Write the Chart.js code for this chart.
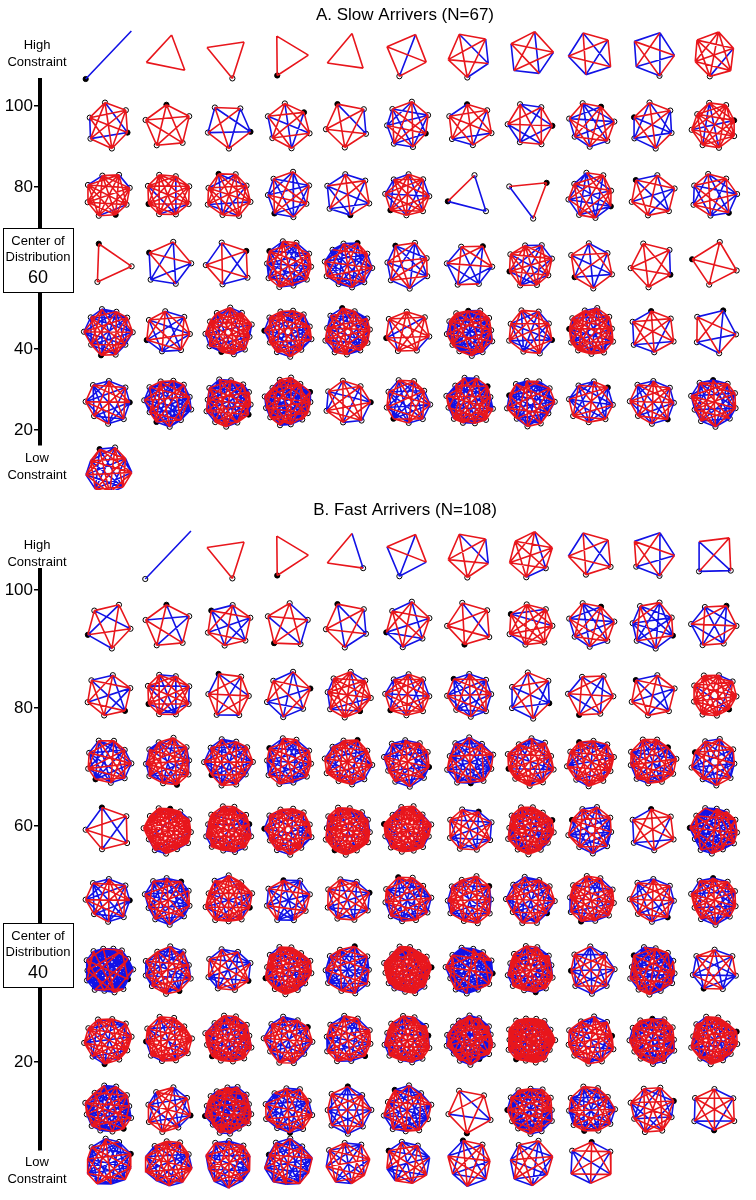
<!DOCTYPE html>
<html><head><meta charset="utf-8">
<script src="https://cdn.jsdelivr.net/npm/chart.js@4"></script>
<style>body{margin:0;background:#fff}.w{position:absolute;left:0;width:756px}</style>
</head><body>
<div class="w" style="top:0;height:490px"><canvas id="a"></canvas></div>
<div class="w" style="top:490px;height:710px"><canvas id="b"></canvas></div>
<script>
// Data: constraint ticks, node count and share of blue ties per network
const constraintTicks = [20, 40, 60, 80, 100];
const slowNodes = [2,3,3,3,3,4,5,5,5,5,6, 6,5,5,6,5,7,6,6,7,6,8, 8,8,8,7,6,8,3,3,8,6,7, 3,5,5,10,10,7,6,8,6,5,4, 10,7,11,11,11,7,12,8,11,6,5, 8,11,12,13,7,9,12,11,8,8,10, 9];
const slowBlue = [1,0,0,0,0,.1,.3,.5,.5,.6,.1, .2,0,.5,.3,.2,.5,.3,.4,.4,.5,.1, .1,.1,.2,.5,.6,.3,.5,.5,.4,.3,.5, 0,.7,.4,.5,.6,.5,.5,.3,.5,.2,.1, .5,.4,.3,.4,.4,.2,.5,.4,.3,.3,.5, .5,.6,.5,.5,.4,.5,.5,.6,.5,.4,.5, .4];
const fastNodes = [1,2,3,3,3,4,5,6,5,5,4, 5,5,6,5,5,6,5,7,7,7,6, 6,8,6,6,8,8,8,6,6,6,9, 9,10,10,10,10,10,10,10,10,10,9, 5,12,12,11,12,12,8,12,9,6,12, 8,10,10,8,8,10,10,10,10,8,10, 14,10,8,12,10,14,12,12,8,12,7, 10,10,12,10,10,12,14,14,10,12,12, 12,8,14,10,8,10,5,12,10,8,6, 10,10,10,10,8,8,7,7,6];
const fastBlue = [0,1,0,0,.3,.5,.2,.2,.3,.5,.5, .3,.3,.4,.3,.5,.5,.2,.1,.4,.6,.4, .3,.3,.3,.5,.2,.3,.5,.5,.3,.3,.1, .5,.4,.5,.5,.3,.5,.6,.3,.3,.4,.5, .3,.1,.2,.3,.2,.2,.4,.3,.5,.3,.6, .5,.6,.2,.5,.4,.5,.4,.5,.3,.4,.4, .8,.5,.5,.3,.6,.2,.7,.4,.5,.6,.5, .3,.2,.3,.4,.4,.3,.5,.2,.3,.4,.3, .6,.4,.5,.5,.5,.5,.2,.5,.5,.3,.3, .6,.4,.5,.6,.4,.5,.5,.5,.5];

// layout
const colX = [109,169,230,290,350,410,473,534,595,657,719];
const rowsA = [55,125,195,265,332,402,470];
const rowsB = [555,625,695,762,830,900,970,1040,1110,1163];
const RED='#e8161c', BLUE='#1212e6';

function build(nodes, blue, rows){
  const red=[], blu=[], pts=[], fill=[];
  nodes.forEach((n,i)=>{
    const cx=colX[i%11], cy=rows[Math.floor(i/11)];
    let P=[];
    if(n===1) P=[[cx,cy]];
    else if(n===2) P=[[cx-23,cy+24],[cx+23,cy-24]];
    else { const r=n>9?23:22, off=i*0.7;
      for(let k=0;k<n;k++){const a=off+k*2*Math.PI/n;P.push([cx+r*Math.cos(a)*(1+0.08*Math.sin(k*2.3)),cy+r*Math.sin(a)*(1+0.08*Math.cos(k*1.7))]);}
    }
    let e=0;
    for(let a=0;a<P.length;a++)for(let b=a+1;b<P.length;b++){
      const isB=((e*37+i*11)%100)/100<blue[i]; e++;
      const t=isB?blu:red; t.push({x:P[a][0],y:P[a][1]},{x:P[b][0],y:P[b][1]},{x:P[b][0],y:NaN});
    }
    P.forEach((p,k)=>{pts.push({x:p[0],y:p[1]});fill.push(k===(i%Math.max(n,1))?'#000':'#fff');});
  });
  return {red,blu,pts,fill};
}

function makeChart(id, nodes, blue, rows, top, bottom, ymin, ymax, center, txt){
  const g=build(nodes,blue,rows);
  const off=id==='b'?490:0;
  const textPlugin={id:'t',afterDraw(c){const x=c.ctx;x.save();x.fillStyle='#000';x.textAlign='center';x.textBaseline='middle';
    x.font='17px "Liberation Sans"';x.fillText(txt.title,405,txt.ty-off);
    x.font='13px "Liberation Sans"';
    x.fillText('High',37,txt.hy-off);x.fillText('Constraint',37,txt.hy+17-off);
    x.fillText('Low',37,txt.ly-off);x.fillText('Constraint',37,txt.ly+17-off);
    const by=txt.by-off;x.fillStyle='#fff';x.fillRect(3,by,70,64);x.strokeStyle='#000';x.lineWidth=1;x.strokeRect(3.5,by+.5,70,64);
    x.fillStyle='#000';x.fillText('Center of',38,by+13);x.fillText('Distribution',38,by+29);
    x.font='18px "Liberation Sans"';x.fillText(String(center),38,by+50);x.restore();}};
  new Chart(document.getElementById(id),{type:'scatter',
    data:{datasets:[
      {data:g.red,showLine:true,spanGaps:false,borderColor:RED,borderWidth:1.6,pointRadius:0,xAxisID:'x',yAxisID:'gy',clip:false},
      {data:g.blu,showLine:true,spanGaps:false,borderColor:BLUE,borderWidth:1.6,pointRadius:0,xAxisID:'x',yAxisID:'gy',clip:false},
      {data:g.pts,showLine:false,pointRadius:2.6,pointBackgroundColor:g.fill,pointBorderColor:'#000',pointBorderWidth:1,xAxisID:'x',yAxisID:'gy',clip:false}]},
    options:{responsive:true,maintainAspectRatio:false,animation:false,events:[],
      layout:{padding:{top:top-off,bottom:(id==='b'?710:490)-(bottom-off),left:0,right:0}},
      plugins:{legend:{display:false},tooltip:{enabled:false}},
      scales:{
        x:{type:'linear',display:false,min:40,max:756},
        gy:{type:'linear',display:false,min:top,max:bottom,reverse:true},
        y:{type:'linear',position:'left',min:ymin,max:ymax,
          afterFit(s){s.width=40;},
          afterBuildTicks(s){s.ticks=constraintTicks.map(v=>({value:v}));},
          ticks:{color:'#000',font:{size:17,family:'Liberation Sans'},padding:1,callback:v=>v===center?'':v},
          grid:{drawOnChartArea:false,drawTicks:true,tickLength:6,color:'#000',lineWidth:1.5},
          border:{display:true,color:'#000',width:4}}}},
    plugins:[textPlugin]});
}
makeChart('a',slowNodes,slowBlue,rowsA,80,445,16.3,106.4,60,{title:'A. Slow Arrivers (N=67)',ty:15,hy:45,ly:458,by:228});
makeChart('b',fastNodes,fastBlue,rowsB,570,1150,5.1,103.4,40,{title:'B. Fast Arrivers (N=108)',ty:510,hy:545,ly:1162,by:923});
</script></body></html>
